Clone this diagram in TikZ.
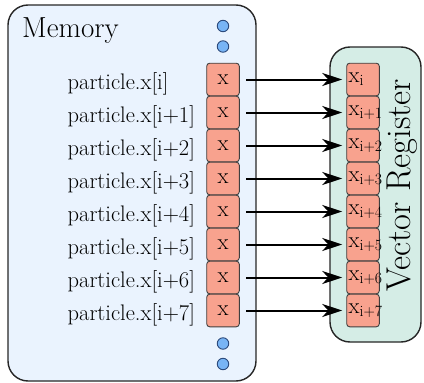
\documentclass[tikz,border=0pt]{standalone}
\usetikzlibrary{arrows.meta}
\definecolor{memblue}{RGB}{234,243,254}
\definecolor{reggreen}{RGB}{213,237,230}
\definecolor{cellred}{RGB}{248,162,142}
\definecolor{dotblue}{RGB}{120,180,245}
\definecolor{dotline}{RGB}{45,75,125}

\begin{document}
\begin{tikzpicture}[x=1pt,y=-1pt,line width=1.4pt]
  \tikzstyle{box}=[draw=black!85,rounded corners=20pt,inner sep=0pt]
  \tikzstyle{cell}=[draw=black!75,fill=cellred,rounded corners=3pt,minimum width=32.6pt,minimum height=32.6pt,inner sep=0pt,line width=0.9pt,font=\fontsize{22.5}{26}\selectfont]
  \tikzstyle{regcell}=[cell,text width=28.6pt,align=left,inner xsep=2pt]
  \tikzstyle{label}=[anchor=base west,inner sep=0pt,font=\fontsize{22.5}{26}\selectfont]
  \tikzstyle{dot}=[circle,draw=dotline,fill=dotblue,minimum size=11.5pt,inner sep=0pt,line width=0.9pt]
  \tikzstyle{arr}=[-{Stealth[length=20pt,width=13pt,inset=6pt]},line width=2pt,shorten <=6.5pt,shorten >=4pt]
  \useasboundingbox (0,0) rectangle (424,383);

  % memory and register
  \node[box,fill=memblue,minimum width=248pt,minimum height=376pt] (mem) at (132,193) {};
  \node[box,fill=reggreen,minimum width=91pt,minimum height=295pt] (reg) at (375.5,194.5) {};
  \node[anchor=base west,inner sep=0pt,font=\fontsize{29}{34}\selectfont] (mem_t) at (21.5,37) {Memory};
  \node[rotate=90,inner sep=0pt,font=\fontsize{34.5}{40}\selectfont] (reg_t) at (402,185.5) {Vector Register};

  \node[dot] (D_1) at (223,26) {};
  \node[dot] (D_2) at (223,46.5) {};
  \node[dot] (D_3) at (223,343.5) {};
  \node[dot] (D_4) at (223,364) {};

  \node[label] (L_1) at (67,89.5)  {particle.x[i]};
  \node[label] (L_2) at (67,122.5) {particle.x[i+1]};
  \node[label] (L_3) at (67,155.5) {particle.x[i+2]};
  \node[label] (L_4) at (67,188.5) {particle.x[i+3]};
  \node[label] (L_5) at (67,221.5) {particle.x[i+4]};
  \node[label] (L_6) at (67,254.5) {particle.x[i+5]};
  \node[label] (L_7) at (67,287.5) {particle.x[i+6]};
  \node[label] (L_8) at (67,320.5) {particle.x[i+7]};

  \node[cell] (M_1) at (223,79.5)  {x};
  \node[cell] (M_2) at (223,112.5) {x};
  \node[cell] (M_3) at (223,145.5) {x};
  \node[cell] (M_4) at (223,178.5) {x};
  \node[cell] (M_5) at (223,211.5) {x};
  \node[cell] (M_6) at (223,244.5) {x};
  \node[cell] (M_7) at (223,277.5) {x};
  \node[cell] (M_8) at (223,310.5) {x};

  \node[regcell] (R_1) at (363,79.5)  {x\textsubscript{i}};
  \node[regcell] (R_2) at (363,112.5) {x\textsubscript{i+1}};
  \node[regcell] (R_3) at (363,145.5) {x\textsubscript{i+2}};
  \node[regcell] (R_4) at (363,178.5) {x\textsubscript{i+3}};
  \node[regcell] (R_5) at (363,211.5) {x\textsubscript{i+4}};
  \node[regcell] (R_6) at (363,244.5) {x\textsubscript{i+5}};
  \node[regcell] (R_7) at (363,277.5) {x\textsubscript{i+6}};
  \node[regcell] (R_8) at (363,310.5) {x\textsubscript{i+7}};

  \draw[arr] (M_1) -- (R_1);
  \draw[arr] (M_2) -- (R_2);
  \draw[arr] (M_3) -- (R_3);
  \draw[arr] (M_4) -- (R_4);
  \draw[arr] (M_5) -- (R_5);
  \draw[arr] (M_6) -- (R_6);
  \draw[arr] (M_7) -- (R_7);
  \draw[arr] (M_8) -- (R_8);

\end{tikzpicture}
\end{document}
